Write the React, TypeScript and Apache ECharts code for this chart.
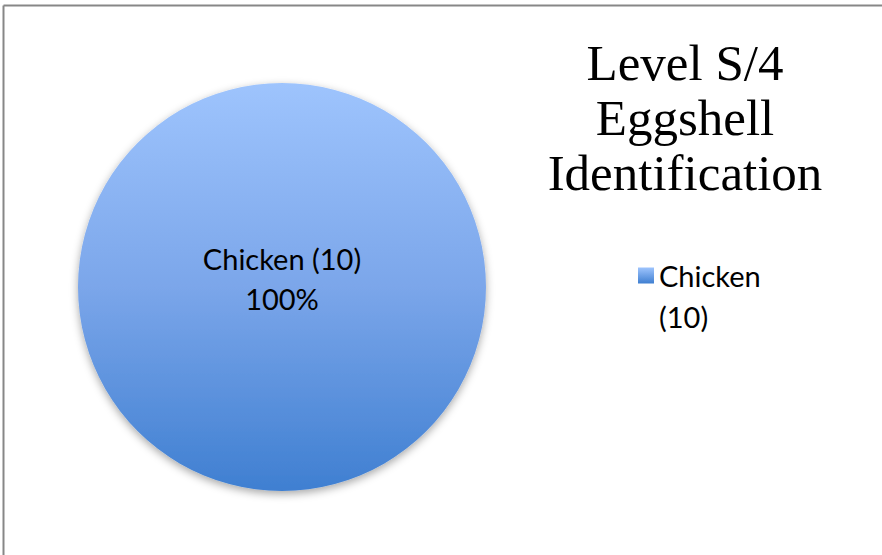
import React, { useEffect, useRef } from "react";
import * as echarts from "echarts";

const categories = ["Chicken (10)"];
const values = [10];
const titleLines = ["Level S/4", "Eggshell", "Identification"];

export default function App() {
  const ref = useRef<HTMLDivElement>(null);
  useEffect(() => {
    document.body.style.margin = "0";
    const chart = echarts.init(ref.current!, null, { renderer: "svg" });
    const grad = new echarts.graphic.LinearGradient(0, 0, 0, 1, [
      { offset: 0, color: "#9ec4fd" },
      { offset: 0.5, color: "#7ba6ea" },
      { offset: 1, color: "#3f7fd1" },
    ]);
    const legendGrad = new echarts.graphic.LinearGradient(0, 0, 0, 1, [
      { offset: 0, color: "#9ec4fd" },
      { offset: 0.28, color: "#3f7fd1" },
      { offset: 1, color: "#3f7fd1" },
    ]);
    chart.setOption({
      animation: false,
      backgroundColor: "#ffffff",
      title: {
        text: titleLines.join("\n"),
        left: 680,
        top: 30,
        textAlign: "center",
        textStyle: {
          fontFamily: "Liberation Serif",
          fontSize: 51,
          fontWeight: "normal",
          color: "#000",
          lineHeight: 55,
        },
      },
      legend: {
        orient: "vertical",
        left: 633,
        top: 250,
        itemWidth: 16,
        itemHeight: 57,
        itemGap: 0,
        data: categories.map((c) => ({
          name: c,
          icon: "path://M0,0L16,0L16,16L0,16Z M0,57L16,57",
          itemStyle: { color: legendGrad },
        })),
        formatter: (n: string) => n.replace(" ", "\n"),
        textStyle: {
          fontFamily: "Lato",
          fontSize: 29,
          color: "#000",
          lineHeight: 41,
        },
      },
      graphic: [
        {
          type: "line",
          shape: { x1: 3.5, y1: 5.5, x2: 882, y2: 5.5 },
          style: { stroke: "#878787", lineWidth: 2 },
        },
        {
          type: "line",
          shape: { x1: 3.5, y1: 5.5, x2: 3.5, y2: 555 },
          style: { stroke: "#878787", lineWidth: 2 },
        },
      ],
      series: [
        {
          type: "pie",
          center: [282, 287],
          radius: 204,
          data: categories.map((c, i) => ({ name: c, value: values[i] })),
          itemStyle: {
            color: grad,
            shadowBlur: 8,
            shadowOffsetY: 3,
            shadowColor: "rgba(0,0,0,0.35)",
          },
          label: {
            position: "center",
            formatter: (p: any) =>
              `{a|${p.name}}\n{a|${Math.round(p.percent)}%}\n{b| }`,
            rich: {
              a: {
                fontFamily: "Lato",
                fontSize: 29,
                color: "#000",
                lineHeight: 40,
              },
              b: { fontSize: 10, lineHeight: 18 },
            },
          },
          labelLine: { show: false },
          emphasis: { disabled: true },
        },
      ],
    });
    return () => chart.dispose();
  }, []);
  return <div ref={ref} style={{ width: 882, height: 555 }} />;
}
